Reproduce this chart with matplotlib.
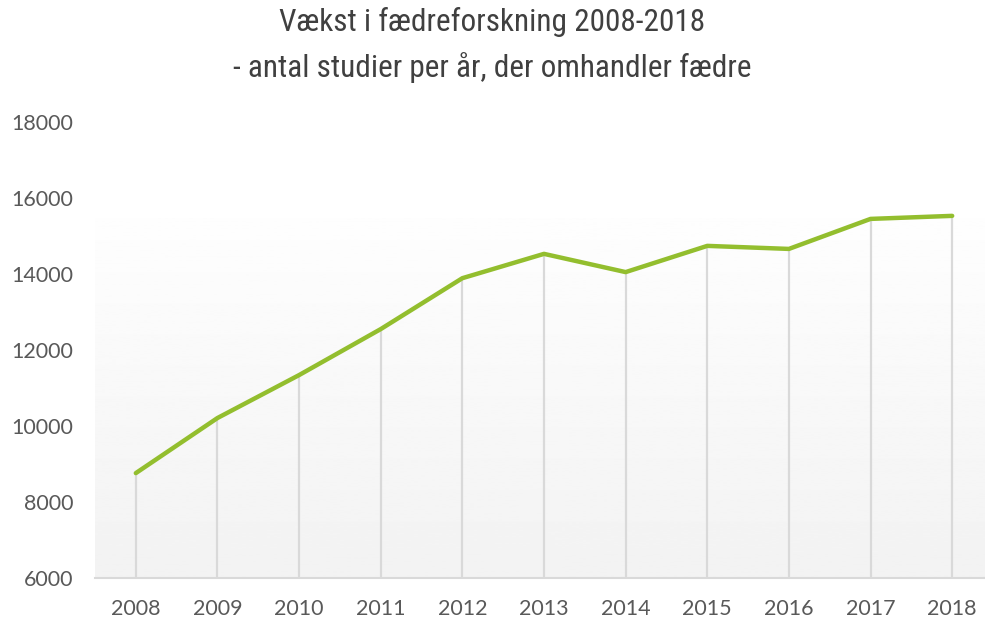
import matplotlib
matplotlib.use('Agg')
import matplotlib.pyplot as plt
import numpy as np
from matplotlib import font_manager

years = ['2008', '2009', '2010', '2011', '2012', '2013', '2014', '2015', '2016', '2017', '2018']
studies = [8760, 10210, 11340, 12550, 13890, 14530, 14050, 14740, 14660, 15450, 15530]
yticks = [6000, 8000, 10000, 12000, 14000, 16000, 18000]

names = {f.name for f in font_manager.fontManager.ttflist}
title_font = ['Roboto Condensed', 'Liberation Sans Narrow', 'Roboto', 'DejaVu Sans']
title_font = [f for f in title_font if f in names] or ['DejaVu Sans']
tick_font = ['Lato', 'DejaVu Sans']

text_col = '#595959'
grid_col = '#d9d9d9'

fig = plt.figure(figsize=(9.85, 6.2), dpi=100)
ax = fig.add_axes([95/985, 42/620, 898/985, 456/620])

x = np.arange(len(years))
ax.set_xlim(-0.5, len(years) - 0.5)
ax.set_ylim(6000, 18000)

# soft gradient band behind the line
grad = np.linspace(0.95, 0.995, 256).reshape(-1, 1)
ax.imshow(grad, cmap='gray', vmin=0, vmax=1, aspect='auto', origin='lower',
          extent=[-0.5, len(years) - 0.5, 6000, 15450], zorder=0)

ax.vlines(x, 6000, studies, color=grid_col, lw=1.6, zorder=1)
ax.plot(x, studies, color='#93be2e', lw=3.2, solid_capstyle='round', zorder=3)

for s in ['top', 'right', 'left']:
    ax.spines[s].set_visible(False)
ax.spines['bottom'].set_color(grid_col)
ax.spines['bottom'].set_linewidth(1.5)

ax.set_xticks(x)
ax.set_xticklabels(years)
ax.set_yticks(yticks)
ax.set_yticklabels([str(v) for v in yticks])
ax.tick_params(length=0, labelsize=15.5, labelcolor=text_col)
ax.tick_params(axis='y', pad=15.5)
ax.tick_params(axis='x', pad=15)
for lab in ax.get_xticklabels() + ax.get_yticklabels():
    lab.set_family(tick_font)

fig.text(0.5, 1 - 22/620, 'Vækst i fædreforskning 2008-2018', ha='center', va='center',
         fontsize=22.5, color='#404040', family=title_font)
fig.text(0.5, 1 - 68/620, '- antal studier per år, der omhandler fædre', ha='center', va='center',
         fontsize=22.5, color='#404040', family=title_font)

plt.savefig('out.png', dpi=100)
